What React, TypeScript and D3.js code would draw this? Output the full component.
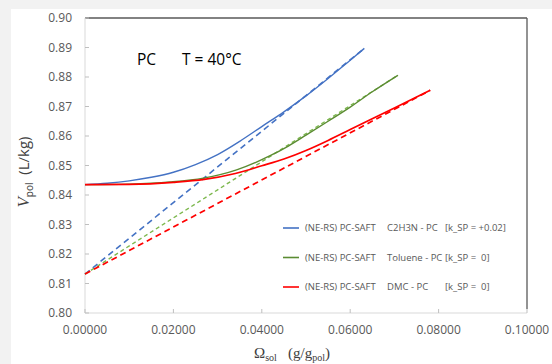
import * as d3 from 'd3';
import React from 'react';

const WIDTH = 552;
const HEIGHT = 364;
const MARGIN = { top: 18, right: 25, bottom: 51, left: 85 };

const xTicks = [0, 0.02, 0.04, 0.06, 0.08, 0.1];
const yTicks = [0.8, 0.81, 0.82, 0.83, 0.84, 0.85, 0.86, 0.87, 0.88, 0.89, 0.9];

// (NE-RS) PC-SAFT curves
const blueOmega = [0, 0.005, 0.01, 0.015, 0.02, 0.025, 0.03, 0.035, 0.04, 0.045, 0.05, 0.055, 0.06, 0.0632];
const blueV = [0.8435, 0.844, 0.8448, 0.846, 0.8477, 0.8503, 0.8537, 0.8582, 0.8632, 0.8682, 0.8736, 0.8795, 0.8857, 0.8897];

const greenOmega = [0, 0.01, 0.0192, 0.0268, 0.0343, 0.042, 0.046, 0.05, 0.055, 0.06, 0.065, 0.0708];
const greenV = [0.8435, 0.8437, 0.8444, 0.8457, 0.8485, 0.8534, 0.8566, 0.8603, 0.865, 0.8698, 0.875, 0.8806];

const redOmega = [0, 0.01, 0.02, 0.027, 0.034, 0.04, 0.045, 0.05, 0.055, 0.06, 0.07, 0.0781];
const redV = [0.8435, 0.8436, 0.8443, 0.8453, 0.8473, 0.8499, 0.8522, 0.8551, 0.8585, 0.8622, 0.8695, 0.8755];

// dashed straight lines (endpoints)
const blueDashOmega = [0, 0.0632];
const blueDashV = [0.8132, 0.8897];
const greenDashOmega = [0, 0.0708];
const greenDashV = [0.8132, 0.8806];
const redDashOmega = [0, 0.0781];
const redDashV = [0.8132, 0.8755];

const legendSpecies = ['C2H3N - PC', 'Toluene - PC', 'DMC - PC'];
const legendK = ['[k_SP = +0.02]', '[k_SP =  0]', '[k_SP =  0]'];
const legendColors = ['#4472C4', '#5B8C32', '#FF0000'];

const SANS = '"Open Sans", sans-serif';
const SERIF = '"Liberation Serif", "DejaVu Serif", serif';

export default function App() {
  const boundsWidth = WIDTH - MARGIN.left - MARGIN.right;
  const boundsHeight = HEIGHT - MARGIN.top - MARGIN.bottom;

  const xScale = d3.scaleLinear().domain([0, 0.1]).range([0, boundsWidth]);
  const yScale = d3.scaleLinear().domain([0.8, 0.9]).range([boundsHeight, 0]);

  const line = d3
    .line<[number, number]>()
    .x(d => xScale(d[0]))
    .y(d => yScale(d[1]))
    .curve(d3.curveMonotoneX);

  const zip = (xs: number[], ys: number[]) => xs.map((x, i) => [x, ys[i]] as [number, number]);

  const series = [
    { pts: zip(blueDashOmega, blueDashV), color: '#4472C4', dash: '6,4', w: 1.6 },
    { pts: zip(greenDashOmega, greenDashV), color: '#7DB84E', dash: '4,3', w: 1.4 },
    { pts: zip(redDashOmega, redDashV), color: '#FF0000', dash: '6,4', w: 1.7 },
    { pts: zip(blueOmega, blueV), color: '#4472C4', dash: undefined, w: 1.4 },
    { pts: zip(greenOmega, greenV), color: '#5B8C32', dash: undefined, w: 1.4 },
    { pts: zip(redOmega, redV), color: '#FF0000', dash: undefined, w: 1.7 },
  ];

  return (
    <svg
      width={WIDTH}
      height={HEIGHT}
      style={{ position: 'absolute', left: 0, top: 0, background: '#ffffff' }}
    >
      <rect x={0} y={0} width={WIDTH} height={9} fill="#f2f2f2" />
      <rect x={0} y={0} width={11} height={HEIGHT} fill="#f2f2f2" />

      <g transform={`translate(${MARGIN.left},${MARGIN.top})`}>
        {/* frame */}
        <line x1={0} x2={boundsWidth} y1={0} y2={0} stroke="#595959" strokeWidth={1.3} />
        <line x1={boundsWidth} x2={boundsWidth} y1={0} y2={boundsHeight - 4} stroke="#595959" strokeWidth={1.3} />
        <line x1={0} x2={0} y1={0} y2={boundsHeight} stroke="#d9d9d9" strokeWidth={1} />
        <line x1={0} x2={boundsWidth} y1={boundsHeight} y2={boundsHeight} stroke="#d9d9d9" strokeWidth={1} />

        {yTicks.map((t, i) => (
          <g key={i} transform={`translate(0,${yScale(t)})`}>
            <line x1={0} x2={4} stroke="#bfbfbf" />
            <text
              x={-13}
              dy="0.35em"
              textAnchor="end"
              fontFamily={SANS}
              fontSize={12}
              fill="#595959"
            >
              {t.toFixed(2)}
            </text>
          </g>
        ))}

        {xTicks.map((t, i) => (
          <g key={i} transform={`translate(${xScale(t)},${boundsHeight})`}>
            <line y1={0} y2={-4} stroke="#bfbfbf" />
            <text
              y={17}
              dy="0.35em"
              textAnchor="middle"
              fontFamily={SANS}
              fontSize={12}
              fill="#595959"
            >
              {t.toFixed(5)}
            </text>
          </g>
        ))}

        {series.map((s, i) => (
          <path
            key={i}
            d={line(s.pts) || ''}
            fill="none"
            stroke={s.color}
            strokeWidth={s.w}
            strokeDasharray={s.dash}
          />
        ))}

        {legendSpecies.map((name, i) => {
          const y = 210 + i * 29.5;
          return (
            <g key={i}>
              <line x1={198} x2={214} y1={y} y2={y} stroke={legendColors[i]} strokeWidth={1.6} />
              <text x={220} y={y} dy="0.35em" fontFamily={SANS} fontSize={9.5} fill="#595959">
                (NE-RS) PC-SAFT
              </text>
              <text x={302} y={y} dy="0.35em" fontFamily={SANS} fontSize={9.5} fill="#595959">
                {name}
              </text>
              <text
                x={360}
                y={y}
                dy="0.35em"
                fontFamily={SANS}
                fontSize={9.5}
                fill="#595959"
                style={{ whiteSpace: 'pre' }}
              >
                {legendK[i]}
              </text>
            </g>
          );
        })}
      </g>

      <text x={137} y={65} fontFamily={SANS} fontSize={15.5} fill="#000000">
        PC
      </text>
      <text x={182} y={65} fontFamily={SANS} fontSize={15.5} fill="#000000">
        T = 40°C
      </text>

      {/* y-axis title */}
      <text
        transform="translate(29,172) rotate(-90)"
        textAnchor="middle"
        fill="#404040"
        style={{ whiteSpace: 'pre' }}
      >
        <tspan fontFamily={SERIF} fontStyle="italic" fontSize={17}>V</tspan>
        <tspan fontFamily={SANS} fontSize={10} dy={4}>pol</tspan>
        <tspan fontFamily={SANS} fontSize={15} dy={-4}>{'  (L/kg)'}</tspan>
      </text>

      {/* x-axis title */}
      <text
        x={292}
        y={358}
        textAnchor="middle"
        fill="#404040"
        fontFamily={SERIF}
        style={{ whiteSpace: 'pre' }}
      >
        <tspan fontSize={15}>Ω</tspan>
        <tspan fontSize={10} dy={3}>sol</tspan>
        <tspan fontSize={15} dy={-3}>{'   (g/g'}</tspan>
        <tspan fontSize={10} dy={3}>pol</tspan>
        <tspan fontSize={15} dy={-3}>)</tspan>
      </text>
    </svg>
  );
}
